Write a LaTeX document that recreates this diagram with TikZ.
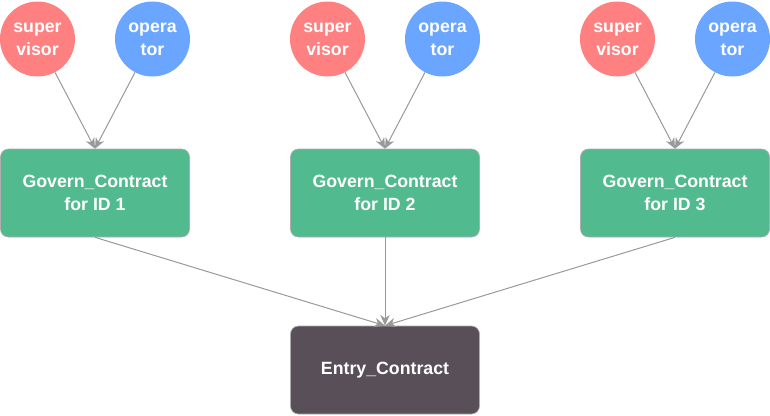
\documentclass[tikz,border=0pt]{standalone}
\usepackage{fontspec}
\setsansfont{Liberation Sans}
\usepackage{tikz}
\usetikzlibrary{arrows.meta,positioning}
\definecolor{supred}{RGB}{255,128,128}
\definecolor{opblue}{RGB}{106,166,255}
\definecolor{govgreen}{RGB}{82,186,143}
\definecolor{entrygrey}{RGB}{89,79,89}
\definecolor{edgegrey}{RGB}{153,153,153}
\tikzset{
  base/.style={font=\sffamily\bfseries\fontsize{13.3}{17.3}\selectfont, align=center, text=white, inner sep=0pt},
  role/.style={base, circle, minimum size=56.25pt},
  sup/.style={role, fill=supred},
  opr/.style={role, fill=opblue},
  box/.style={base, rectangle, rounded corners=6pt, draw=edgegrey!80, line width=0.5pt, minimum width=141.75pt, minimum height=66pt},
  gov/.style={box, fill=govgreen},
  entry/.style={box, fill=entrygrey},
  arr/.style={-{Stealth[length=8pt,width=7pt,inset=2.5pt]}, line width=0.75pt, draw=edgegrey},
}
\begin{document}
\begin{tikzpicture}[x=0.75pt,y=-0.75pt]
  \useasboundingbox (0,0) rectangle (770,415);
  \foreach \i/\x in {1/0,2/290,3/580}{
    \node[sup] (sup\i) at (\x+37.5,39) {super\\visor};
    \node[opr] (op\i) at (\x+152.5,39) {opera\\tor};
    \node[gov] (gov\i) at (\x+95,193) {Govern\_Contract\\for ID \i};
  }
  \node[entry] (entry) at (385,370) {Entry\_Contract};
  \foreach \i in {1,2,3}{
    \draw[arr] (sup\i) -- (gov\i.north);
    \draw[arr] (op\i) -- (gov\i.north);
    \draw[arr] (gov\i.south) -- (entry.north);
  }
\end{tikzpicture}
\end{document}
